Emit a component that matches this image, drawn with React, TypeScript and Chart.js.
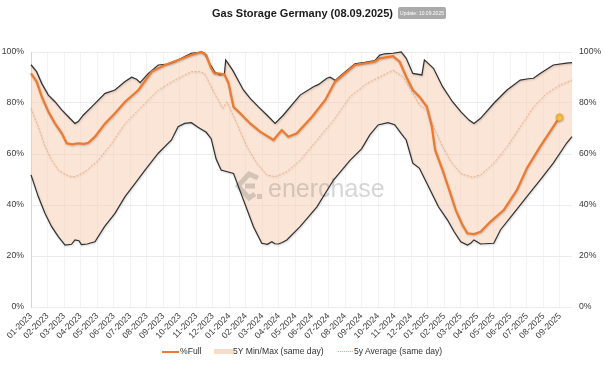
import { useEffect, useRef } from 'react';
import { Chart, registerables } from 'chart.js';

Chart.register(...registerables);

const titleText = 'Gas Storage Germany (08.09.2025)';
const updateText = 'Update: 10.09.2025';
const watermarkText = 'enerchase';

const monthLabels = [
  '01-2023', '02-2023', '03-2023', '04-2023', '05-2023', '06-2023', '07-2023', '08-2023', '09-2023', '10-2023', '11-2023', '12-2023',
  '01-2024', '02-2024', '03-2024', '04-2024', '05-2024', '06-2024', '07-2024', '08-2024', '09-2024', '10-2024', '11-2024', '12-2024',
  '01-2025', '02-2025', '03-2025', '04-2025', '05-2025', '06-2025', '07-2025', '08-2025', '09-2025',
];

const legendLabels = ['%Full', '5Y Min/Max (same day)', '5y Average (same day)'];

// x positions are in months since 01-2023
const fullMonths = [
  0, 0.34, 0.65, 1.05, 1.45, 1.86, 2.16, 2.5, 2.86, 3.2,
  3.47, 3.87, 4.48, 5.08, 5.69, 6.5, 7.3, 8.1, 8.9, 9.7,
  10.3, 10.6, 10.9, 11.1, 11.3, 11.7, 11.95, 12.25, 12.65, 13.26,
  13.86, 14.67, 15.17, 15.57, 16.08, 17.0, 17.8, 18.4, 19.6, 20.8,
  21.1, 21.9, 22.3, 22.7, 23.1, 23.5, 23.95, 24.25, 24.45, 24.9,
  25.3, 25.7, 26.1, 26.4, 26.8, 27.2, 27.8, 28.6, 29.4, 30.0,
  30.8, 31.4, 31.97,
];
const fullValues = [
  91.6, 88.4, 82.5, 76.6, 72.0, 68.1, 64.2, 63.8, 64.2, 64.0,
  64.4, 66.8, 72.0, 76.0, 80.5, 85.1, 92.3, 94.9, 96.9, 98.8,
  100, 98.8, 93.6, 91.6, 91.6, 91.3, 87.7, 78.5, 76.0, 72.0,
  68.8, 65.5, 69.4, 66.8, 68.1, 74.6, 81.2, 88.4, 94.9, 96.2,
  97.5, 98.4, 96.2, 90.3, 85.1, 82.5, 78.5, 70.7, 61.6, 53.7,
  45.9, 38.0, 32.2, 28.9, 28.6, 29.5, 33.5, 38.0, 45.9, 54.4,
  62.9, 68.8, 74.4,
];

const maxMonths = [
  0, 0.34, 0.65, 1.05, 1.45, 1.86, 2.26, 2.66, 2.86, 3.17,
  3.67, 4.48, 5.08, 5.69, 6.09, 6.39, 6.6, 7.1, 7.7, 8.3,
  8.7, 9.3, 9.7, 10.3, 10.5, 10.8, 11.1, 11.4, 11.7, 11.78,
  12.2, 12.85, 13.26, 13.76, 14.27, 14.77, 15.27, 16.28, 17.09, 17.4,
  17.9, 18.1, 18.3, 18.4, 19.0, 19.6, 20.2, 20.8, 21.1, 21.4,
  21.9, 22.4, 22.7, 23.1, 23.65, 23.8, 24.35, 24.9, 25.5, 26.0,
  26.5, 26.8, 27.2, 28.0, 28.8, 29.6, 30.1, 30.4, 30.8, 31.6,
  32.4, 32.73,
];
const maxValues = [
  95, 92.3, 87.7, 83.1, 80.5, 77.3, 74.6, 72.0, 72.7, 75.3,
  78.5, 83.8, 85.1, 88.4, 90.1, 89.3, 88.0, 91.6, 94.9, 95.3,
  96.2, 98.2, 99.5, 100, 99.5, 95.6, 92.3, 91.0, 91.3, 96.9,
  92.9, 85.1, 81.8, 78.5, 75.3, 72.0, 75.3, 83.1, 86.4, 87.3,
  89.7, 90.1, 89.3, 88.8, 92.2, 95.4, 95.9, 96.6, 98.8, 99.3,
  99.5, 100, 97.5, 91.6, 91.0, 96.9, 93.6, 86.4, 80.5, 76.6,
  73.3, 72.0, 74.0, 79.9, 85.1, 89.0, 89.5, 89.7, 91.6, 94.9,
  95.6, 95.8,
];

const minMonths = [
  0, 0.44, 0.85, 1.25, 1.65, 2.06, 2.45, 2.66, 2.9, 3.05,
  3.4, 3.87, 4.45, 5.08, 5.69, 6.3, 6.9, 7.7, 8.5, 8.9,
  9.3, 9.7, 10.1, 10.6, 10.9, 11.2, 11.5, 12.25, 12.85, 13.46,
  13.96, 14.3, 14.57, 14.75, 14.97, 15.2, 15.48, 16.28, 17.3, 18.3,
  19.3, 20.0, 20.5, 21.0, 21.6, 22.0, 22.4, 22.7, 23.1, 23.5,
  24.15, 24.65, 25.2, 25.6, 26.0, 26.4, 26.6, 26.8, 27.0, 27.2,
  28.0, 28.4, 29.2, 30.0, 30.8, 31.6, 32.4, 32.73,
];
const minValues = [
  51.8, 43.3, 36.7, 31.5, 27.6, 24.3, 24.6, 26.3, 26.0, 24.5,
  24.7, 25.6, 31.5, 36.7, 43.3, 48.5, 53.7, 60.3, 65.5, 70.7,
  72.0, 72.3, 70.5, 68.5, 66.0, 58.0, 53.7, 52.4, 42.0, 31.5,
  25.0, 24.6, 25.6, 24.8, 24.7, 25.3, 26.3, 31.5, 39.3, 49.8,
  57.5, 62.0, 67.5, 71.4, 72.3, 71.5, 68.0, 65.5, 56.4, 54.4,
  45.9, 39.3, 34.1, 29.5, 25.6, 24.3, 25.0, 26.3, 25.5, 24.7,
  25.0, 30.2, 36.7, 43.3, 49.8, 56.4, 64.2, 66.8,
];

const avgMonths = [
  0, 0.44, 0.85, 1.25, 1.65, 2.26, 2.66, 3.27, 4.07, 4.88,
  5.69, 6.5, 7.7, 8.7, 9.7, 10.2, 10.5, 11.1, 11.6, 11.85,
  12.45, 13.06, 13.66, 14.27, 14.77, 15.48, 16.28, 17.3, 18.3, 19.3,
  20.3, 21.5, 21.9, 22.5, 23.1, 23.5, 23.95, 24.35, 24.9, 25.4,
  26.0, 26.7, 27.2, 28.0, 28.8, 29.6, 30.4, 31.2, 32.0, 32.73,
];
const avgValues = [
  77.9, 70.7, 62.9, 57.6, 53.7, 51.4, 51.1, 53.1, 57.6, 64.2,
  72.0, 77.3, 85.1, 89.0, 92.3, 92.3, 91.6, 83.8, 77.9, 80.5,
  72.0, 62.9, 56.4, 51.8, 51.1, 53.1, 57.6, 65.5, 73.3, 82.5,
  87.7, 91.6, 92.9, 90.3, 83.8, 79.2, 77.3, 70.7, 62.9, 57.0,
  52.4, 50.9, 51.8, 56.4, 62.9, 70.7, 78.5, 83.8, 87.1, 89.0,
];

const toPoints = (xs: number[], ys: number[]) => xs.map((x, i) => ({ x, y: ys[i] }));

const FONT = '"Liberation Sans", Arial, sans-serif';
const ORANGE = '#EC7A2F';
const PEACH = 'rgba(248, 203, 173, 0.5)';
const AVG = '#F2AE84';
const EDGE = '#2f2f2f';

const watermarkPlugin = {
  id: 'watermark',
  beforeDatasetsDraw(chart: any) {
    const ctx = chart.ctx;
    ctx.save();
    ctx.fillStyle = 'rgba(120,120,120,0.3)';
    ctx.strokeStyle = 'rgba(120,120,120,0.3)';
    ctx.font = '25px ' + FONT;
    ctx.textBaseline = 'alphabetic';
    ctx.fillText(watermarkText, 268, 197);
    ctx.lineWidth = 5;
    ctx.beginPath();
    ctx.moveTo(258, 178);
    ctx.lineTo(249, 174);
    ctx.lineTo(238, 186);
    ctx.lineTo(249, 198);
    ctx.lineTo(255, 194);
    ctx.stroke();
    ctx.beginPath();
    ctx.moveTo(245, 186);
    ctx.lineTo(255, 186);
    ctx.stroke();
    ctx.fillRect(257, 194, 5, 5);
    ctx.restore();
  },
};

const shadowPlugin = {
  id: 'lineShadow',
  beforeDatasetDraw(chart: any) {
    const ctx = chart.ctx;
    ctx.save();
    ctx.shadowColor = 'rgba(0,0,0,0.22)';
    ctx.shadowBlur = 2;
    ctx.shadowOffsetX = 0.5;
    ctx.shadowOffsetY = 1;
  },
  afterDatasetDraw(chart: any) {
    chart.ctx.restore();
  },
};

export default function App() {
  const ref = useRef<HTMLCanvasElement>(null);

  useEffect(() => {
    if (!ref.current) return;
    const tickFont = { family: FONT, size: 8.7 };
    const chart = new Chart(ref.current, {
      type: 'line',
      data: {
        datasets: [
          {
            label: legendLabels[0],
            data: toPoints(fullMonths, fullValues),
            borderColor: ORANGE,
            borderWidth: 2.2,
            pointRadius: (c: any) => (c.dataIndex === fullValues.length - 1 ? 3.5 : 0),
            pointBackgroundColor: '#F7C548',
            pointBorderColor: '#EDA93C',
            pointBorderWidth: 1,
            fill: false,
            tension: 0,
            clip: 6,
          },
          {
            label: 'max',
            data: toPoints(maxMonths, maxValues),
            borderColor: EDGE,
            borderWidth: 1.2,
            pointRadius: 0,
            fill: '+1',
            backgroundColor: PEACH,
            tension: 0,
            clip: 6,
          },
          {
            label: 'min',
            data: toPoints(minMonths, minValues),
            borderColor: EDGE,
            borderWidth: 1.2,
            pointRadius: 0,
            fill: false,
            tension: 0,
            clip: 6,
          },
          {
            label: legendLabels[2],
            data: toPoints(avgMonths, avgValues),
            borderColor: AVG,
            borderWidth: 1,
            borderDash: [2, 1.5],
            pointRadius: 0,
            fill: false,
            tension: 0,
            clip: 6,
          },
        ],
      },
      options: {
        responsive: false,
        animation: false,
        devicePixelRatio: 1,
        layout: { padding: { top: 52, left: 0, right: 0, bottom: 0 } },
        plugins: {
          legend: { display: false },
          tooltip: { enabled: false },
          filler: { drawTime: 'beforeDatasetsDraw' },
        },
        scales: {
          x: {
            type: 'linear',
            min: 0,
            max: 32.73,
            afterFit: (s: any) => { s.height = 58; },
            grid: { color: '#f3f3f3', drawTicks: false },
            border: { display: false },
            ticks: {
              stepSize: 1,
              autoSkip: false,
              includeBounds: false,
              maxRotation: 45,
              minRotation: 45,
              padding: 4,
              color: '#3a3a3a',
              font: tickFont,
              callback: (v: any) => monthLabels[v] ?? '',
            },
          },
          y: {
            position: 'left',
            min: 0,
            max: 100,
            afterFit: (s: any) => { s.width = 31; },
            grid: { color: '#ececec', drawTicks: false },
            border: { display: true, color: '#d4d4d4' },
            ticks: { stepSize: 20, padding: 7, color: '#3a3a3a', font: tickFont, callback: (v: any) => v + '%' },
          },
          y2: {
            position: 'right',
            min: 0,
            max: 100,
            afterFit: (s: any) => { s.width = 33; },
            grid: { display: false, drawTicks: false },
            border: { display: false },
            ticks: { stepSize: 20, padding: 7, color: '#3a3a3a', font: tickFont, callback: (v: any) => v + '%' },
          },
        },
      } as any,
      plugins: [watermarkPlugin, shadowPlugin],
    });
    return () => chart.destroy();
  }, []);

  const legendText: any = {
    position: 'absolute', top: 346, fontSize: 8.6, lineHeight: '11px', color: '#333', whiteSpace: 'nowrap',
  };

  return (
    <div style={{ position: 'absolute', left: 0, top: 0, width: 605, height: 365, fontFamily: FONT, background: '#fff' }}>
      <canvas ref={ref} width={605} height={365} style={{ position: 'absolute', left: 0, top: 0 }} />
      <div style={{ position: 'absolute', top: 6, left: 0, width: 605, textAlign: 'center', fontSize: 11, fontWeight: 'bold', lineHeight: '14px', color: '#1a1a1a' }}>
        <span style={{ position: 'relative' }}>
          {titleText}
          <span style={{ position: 'absolute', left: 'calc(100% + 5px)', top: 0, width: 48, height: 12, lineHeight: '12px', fontSize: 5, fontWeight: 'normal', textAlign: 'center', background: '#aaaaaa', color: '#fff', borderRadius: 2, whiteSpace: 'nowrap' }}>
            {updateText}
          </span>
        </span>
      </div>
      <div style={{ position: 'absolute', left: 162, top: 351, width: 17, height: 2, background: ORANGE }} />
      <div style={{ ...legendText, left: 180 }}>{legendLabels[0]}</div>
      <div style={{ position: 'absolute', left: 214, top: 349, width: 19, height: 5, background: '#F9DCC8' }} />
      <div style={{ ...legendText, left: 233 }}>{legendLabels[1]}</div>
      <div style={{ position: 'absolute', left: 338, top: 351, width: 15, height: 0, borderTop: '1px dotted ' + AVG }} />
      <div style={{ ...legendText, left: 354 }}>{legendLabels[2]}</div>
    </div>
  );
}
